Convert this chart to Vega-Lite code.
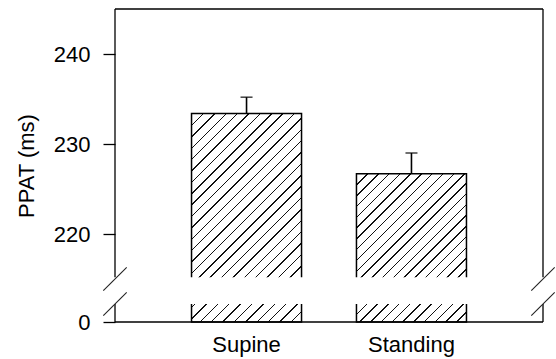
{
  "$schema": "https://vega.github.io/schema/vega-lite/v6.json",
  "width": 428,
  "height": 313,
  "autosize": {"type": "none"},
  "padding": {"left": 115, "top": 9, "right": 13, "bottom": 37},
  "background": "#ffffff",
  "config": {"view": {"stroke": null}, "font": "Liberation Sans"},
  "data": {"values": [
    {"posture": "Supine", "mean": 233.4, "upper": 235.2},
    {"posture": "Standing", "mean": 226.7, "upper": 229.0}
  ]},
  "layer": [
    {
      "layer": [
        {
          "mark": {"type": "bar", "stroke": "#000", "strokeWidth": 1.5},
          "encoding": {
            "x": {"field": "posture", "type": "nominal", "sort": ["Supine", "Standing"],
              "scale": {"domain": ["Supine", "Standing"], "paddingInner": 0.333, "paddingOuter": 0.464},
              "axis": {"orient": "bottom", "title": null, "ticks": false, "domain": false, "grid": false, "labelFontSize": 22, "labelFont": "Liberation Sans", "labelColor": "#000", "labelPadding": 12, "labelAngle": 0}},
            "y": {"field": "mean", "type": "quantitative",
              "scale": {"type": "linear", "domain": [0, 215, 245], "range": [313, 270, 0], "nice": false, "zero": false},
              "axis": {"values": [0, 220, 230, 240], "title": "PPAT (ms)", "titleFontSize": 22, "titleFontWeight": "normal", "titleFont": "Liberation Sans", "titleColor": "#000", "titlePadding": 15, "tickSize": 12, "tickColor": "#000", "tickWidth": 1.3, "labelFontSize": 22, "labelFont": "Liberation Sans", "labelColor": "#000", "labelPadding": 13, "domain": false, "grid": false, "labelOverlap": false}},
            "y2": {"datum": 0},
            "fill": {
              "condition": {"test": "datum.posture === 'Supine'", "value": {"gradient": "linear", "x1": 0, "y1": 0, "x2": 0.6302, "y2": 1.1951, "stops": [
                {"offset": 0, "color": "#111"}, {"offset": 0.0046, "color": "#111"}, {"offset": 0.0046, "color": "#fff"}, {"offset": 0.0357, "color": "#fff"},
                {"offset": 0.0357, "color": "#111"}, {"offset": 0.0403, "color": "#111"}, {"offset": 0.0403, "color": "#fff"}, {"offset": 0.0714, "color": "#fff"},
                {"offset": 0.0714, "color": "#111"}, {"offset": 0.0760, "color": "#111"}, {"offset": 0.0760, "color": "#fff"}, {"offset": 0.1071, "color": "#fff"},
                {"offset": 0.1071, "color": "#111"}, {"offset": 0.1117, "color": "#111"}, {"offset": 0.1117, "color": "#fff"}, {"offset": 0.1429, "color": "#fff"},
                {"offset": 0.1429, "color": "#111"}, {"offset": 0.1475, "color": "#111"}, {"offset": 0.1475, "color": "#fff"}, {"offset": 0.1786, "color": "#fff"},
                {"offset": 0.1786, "color": "#111"}, {"offset": 0.1832, "color": "#111"}, {"offset": 0.1832, "color": "#fff"}, {"offset": 0.2143, "color": "#fff"},
                {"offset": 0.2143, "color": "#111"}, {"offset": 0.2189, "color": "#111"}, {"offset": 0.2189, "color": "#fff"}, {"offset": 0.25, "color": "#fff"},
                {"offset": 0.25, "color": "#111"}, {"offset": 0.2546, "color": "#111"}, {"offset": 0.2546, "color": "#fff"}, {"offset": 0.2857, "color": "#fff"},
                {"offset": 0.2857, "color": "#111"}, {"offset": 0.2903, "color": "#111"}, {"offset": 0.2903, "color": "#fff"}, {"offset": 0.3214, "color": "#fff"},
                {"offset": 0.3214, "color": "#111"}, {"offset": 0.3260, "color": "#111"}, {"offset": 0.3260, "color": "#fff"}, {"offset": 0.3571, "color": "#fff"},
                {"offset": 0.3571, "color": "#111"}, {"offset": 0.3617, "color": "#111"}, {"offset": 0.3617, "color": "#fff"}, {"offset": 0.3929, "color": "#fff"},
                {"offset": 0.3929, "color": "#111"}, {"offset": 0.3975, "color": "#111"}, {"offset": 0.3975, "color": "#fff"}, {"offset": 0.4286, "color": "#fff"},
                {"offset": 0.4286, "color": "#111"}, {"offset": 0.4332, "color": "#111"}, {"offset": 0.4332, "color": "#fff"}, {"offset": 0.4643, "color": "#fff"},
                {"offset": 0.4643, "color": "#111"}, {"offset": 0.4689, "color": "#111"}, {"offset": 0.4689, "color": "#fff"}, {"offset": 0.5, "color": "#fff"},
                {"offset": 0.5, "color": "#111"}, {"offset": 0.5046, "color": "#111"}, {"offset": 0.5046, "color": "#fff"}, {"offset": 0.5357, "color": "#fff"},
                {"offset": 0.5357, "color": "#111"}, {"offset": 0.5403, "color": "#111"}, {"offset": 0.5403, "color": "#fff"}, {"offset": 0.5714, "color": "#fff"},
                {"offset": 0.5714, "color": "#111"}, {"offset": 0.5760, "color": "#111"}, {"offset": 0.5760, "color": "#fff"}, {"offset": 0.6071, "color": "#fff"},
                {"offset": 0.6071, "color": "#111"}, {"offset": 0.6117, "color": "#111"}, {"offset": 0.6117, "color": "#fff"}, {"offset": 0.6429, "color": "#fff"},
                {"offset": 0.6429, "color": "#111"}, {"offset": 0.6475, "color": "#111"}, {"offset": 0.6475, "color": "#fff"}, {"offset": 0.6786, "color": "#fff"},
                {"offset": 0.6786, "color": "#111"}, {"offset": 0.6832, "color": "#111"}, {"offset": 0.6832, "color": "#fff"}, {"offset": 0.7143, "color": "#fff"},
                {"offset": 0.7143, "color": "#111"}, {"offset": 0.7189, "color": "#111"}, {"offset": 0.7189, "color": "#fff"}, {"offset": 0.75, "color": "#fff"},
                {"offset": 0.75, "color": "#111"}, {"offset": 0.7546, "color": "#111"}, {"offset": 0.7546, "color": "#fff"}, {"offset": 0.7857, "color": "#fff"},
                {"offset": 0.7857, "color": "#111"}, {"offset": 0.7903, "color": "#111"}, {"offset": 0.7903, "color": "#fff"}, {"offset": 0.8214, "color": "#fff"},
                {"offset": 0.8214, "color": "#111"}, {"offset": 0.8260, "color": "#111"}, {"offset": 0.8260, "color": "#fff"}, {"offset": 0.8571, "color": "#fff"},
                {"offset": 0.8571, "color": "#111"}, {"offset": 0.8617, "color": "#111"}, {"offset": 0.8617, "color": "#fff"}, {"offset": 0.8929, "color": "#fff"},
                {"offset": 0.8929, "color": "#111"}, {"offset": 0.8975, "color": "#111"}, {"offset": 0.8975, "color": "#fff"}, {"offset": 0.9286, "color": "#fff"},
                {"offset": 0.9286, "color": "#111"}, {"offset": 0.9332, "color": "#111"}, {"offset": 0.9332, "color": "#fff"}, {"offset": 0.9643, "color": "#fff"},
                {"offset": 0.9643, "color": "#111"}, {"offset": 0.9689, "color": "#111"}, {"offset": 0.9689, "color": "#fff"}, {"offset": 1, "color": "#fff"}
              ]}},
              "value": {"gradient": "linear", "x1": 0, "y1": 0, "x2": 0.8334, "y2": 1.1236, "stops": [
                {"offset": 0, "color": "#111"}, {"offset": 0.0057, "color": "#111"}, {"offset": 0.0057, "color": "#fff"}, {"offset": 0.0417, "color": "#fff"},
                {"offset": 0.0417, "color": "#111"}, {"offset": 0.0474, "color": "#111"}, {"offset": 0.0474, "color": "#fff"}, {"offset": 0.0833, "color": "#fff"},
                {"offset": 0.0833, "color": "#111"}, {"offset": 0.0890, "color": "#111"}, {"offset": 0.0890, "color": "#fff"}, {"offset": 0.125, "color": "#fff"},
                {"offset": 0.125, "color": "#111"}, {"offset": 0.1307, "color": "#111"}, {"offset": 0.1307, "color": "#fff"}, {"offset": 0.1667, "color": "#fff"},
                {"offset": 0.1667, "color": "#111"}, {"offset": 0.1724, "color": "#111"}, {"offset": 0.1724, "color": "#fff"}, {"offset": 0.2083, "color": "#fff"},
                {"offset": 0.2083, "color": "#111"}, {"offset": 0.2140, "color": "#111"}, {"offset": 0.2140, "color": "#fff"}, {"offset": 0.25, "color": "#fff"},
                {"offset": 0.25, "color": "#111"}, {"offset": 0.2557, "color": "#111"}, {"offset": 0.2557, "color": "#fff"}, {"offset": 0.2917, "color": "#fff"},
                {"offset": 0.2917, "color": "#111"}, {"offset": 0.2974, "color": "#111"}, {"offset": 0.2974, "color": "#fff"}, {"offset": 0.3333, "color": "#fff"},
                {"offset": 0.3333, "color": "#111"}, {"offset": 0.3390, "color": "#111"}, {"offset": 0.3390, "color": "#fff"}, {"offset": 0.375, "color": "#fff"},
                {"offset": 0.375, "color": "#111"}, {"offset": 0.3807, "color": "#111"}, {"offset": 0.3807, "color": "#fff"}, {"offset": 0.4167, "color": "#fff"},
                {"offset": 0.4167, "color": "#111"}, {"offset": 0.4224, "color": "#111"}, {"offset": 0.4224, "color": "#fff"}, {"offset": 0.4583, "color": "#fff"},
                {"offset": 0.4583, "color": "#111"}, {"offset": 0.4640, "color": "#111"}, {"offset": 0.4640, "color": "#fff"}, {"offset": 0.5, "color": "#fff"},
                {"offset": 0.5, "color": "#111"}, {"offset": 0.5057, "color": "#111"}, {"offset": 0.5057, "color": "#fff"}, {"offset": 0.5417, "color": "#fff"},
                {"offset": 0.5417, "color": "#111"}, {"offset": 0.5474, "color": "#111"}, {"offset": 0.5474, "color": "#fff"}, {"offset": 0.5833, "color": "#fff"},
                {"offset": 0.5833, "color": "#111"}, {"offset": 0.5890, "color": "#111"}, {"offset": 0.5890, "color": "#fff"}, {"offset": 0.625, "color": "#fff"},
                {"offset": 0.625, "color": "#111"}, {"offset": 0.6307, "color": "#111"}, {"offset": 0.6307, "color": "#fff"}, {"offset": 0.6667, "color": "#fff"},
                {"offset": 0.6667, "color": "#111"}, {"offset": 0.6724, "color": "#111"}, {"offset": 0.6724, "color": "#fff"}, {"offset": 0.7083, "color": "#fff"},
                {"offset": 0.7083, "color": "#111"}, {"offset": 0.7140, "color": "#111"}, {"offset": 0.7140, "color": "#fff"}, {"offset": 0.75, "color": "#fff"},
                {"offset": 0.75, "color": "#111"}, {"offset": 0.7557, "color": "#111"}, {"offset": 0.7557, "color": "#fff"}, {"offset": 0.7917, "color": "#fff"},
                {"offset": 0.7917, "color": "#111"}, {"offset": 0.7974, "color": "#111"}, {"offset": 0.7974, "color": "#fff"}, {"offset": 0.8333, "color": "#fff"},
                {"offset": 0.8333, "color": "#111"}, {"offset": 0.8390, "color": "#111"}, {"offset": 0.8390, "color": "#fff"}, {"offset": 0.875, "color": "#fff"},
                {"offset": 0.875, "color": "#111"}, {"offset": 0.8807, "color": "#111"}, {"offset": 0.8807, "color": "#fff"}, {"offset": 0.9167, "color": "#fff"},
                {"offset": 0.9167, "color": "#111"}, {"offset": 0.9224, "color": "#111"}, {"offset": 0.9224, "color": "#fff"}, {"offset": 0.9583, "color": "#fff"},
                {"offset": 0.9583, "color": "#111"}, {"offset": 0.9640, "color": "#111"}, {"offset": 0.9640, "color": "#fff"}, {"offset": 1, "color": "#fff"}
              ]}
            }
          }
        },
        {
          "mark": {"type": "rule", "stroke": "#000", "strokeWidth": 1.6},
          "encoding": {
            "x": {"field": "posture", "type": "nominal", "scale": {"domain": ["Supine", "Standing"], "paddingInner": 0.333, "paddingOuter": 0.464}},
            "y": {"field": "mean", "type": "quantitative", "scale": {"type": "linear", "domain": [0, 215, 245], "range": [313, 270, 0], "nice": false, "zero": false}},
            "y2": {"field": "upper"}
          }
        },
        {
          "mark": {"type": "tick", "color": "#000", "thickness": 1.6, "size": 12},
          "encoding": {
            "x": {"field": "posture", "type": "nominal", "scale": {"domain": ["Supine", "Standing"], "paddingInner": 0.333, "paddingOuter": 0.464}},
            "y": {"field": "upper", "type": "quantitative", "scale": {"type": "linear", "domain": [0, 215, 245], "range": [313, 270, 0], "nice": false, "zero": false}}
          }
        }
      ]
    },
    {
      "data": {"values": [{"side": 0}, {"side": 1}]},
      "layer": [
        {
          "data": {"values": [{"piece": "gap"}]},
          "mark": {"type": "rect", "fill": "#fff", "strokeWidth": 0},
          "encoding": {
            "x": {"datum": 0, "type": "quantitative", "scale": {"domain": [0, 1], "nice": false, "zero": false}, "axis": null},
            "x2": {"datum": 1},
            "y": {"datum": 215.2, "type": "quantitative", "scale": {"type": "linear", "domain": [0, 215, 245], "range": [313, 270, 0], "nice": false, "zero": false}},
            "y2": {"datum": 90}
          }
        },
        {
          "mark": {"type": "rule", "stroke": "#000", "strokeWidth": 1.3},
          "encoding": {
            "x": {"field": "side", "type": "quantitative", "scale": {"domain": [0, 1], "nice": false, "zero": false}, "axis": null},
            "y": {"datum": 215.2, "type": "quantitative", "scale": {"type": "linear", "domain": [0, 215, 245], "range": [313, 270, 0], "nice": false, "zero": false}},
            "y2": {"datum": 245}
          }
        },
        {
          "mark": {"type": "rule", "stroke": "#000", "strokeWidth": 1.3},
          "encoding": {
            "x": {"field": "side", "type": "quantitative", "scale": {"domain": [0, 1], "nice": false, "zero": false}, "axis": null},
            "y": {"datum": 0, "type": "quantitative", "scale": {"type": "linear", "domain": [0, 215, 245], "range": [313, 270, 0], "nice": false, "zero": false}},
            "y2": {"datum": 90}
          }
        },
        {
          "data": {"values": [{"piece": "top"}]},
          "mark": {"type": "rule", "stroke": "#000", "strokeWidth": 1.3},
          "encoding": {
            "x": {"datum": 0, "type": "quantitative", "scale": {"domain": [0, 1], "nice": false, "zero": false}, "axis": null},
            "x2": {"datum": 1},
            "y": {"datum": 245, "type": "quantitative", "scale": {"type": "linear", "domain": [0, 215, 245], "range": [313, 270, 0], "nice": false, "zero": false}}
          }
        },
        {
          "data": {"values": [{"piece": "bottom"}]},
          "mark": {"type": "rule", "stroke": "#000", "strokeWidth": 1.3},
          "encoding": {
            "x": {"datum": 0, "type": "quantitative", "scale": {"domain": [0, 1], "nice": false, "zero": false}, "axis": null},
            "x2": {"datum": 1},
            "y": {"datum": 0, "type": "quantitative", "scale": {"type": "linear", "domain": [0, 215, 245], "range": [313, 270, 0], "nice": false, "zero": false}}
          }
        },
        {
          "mark": {"type": "rule", "stroke": "#222", "strokeWidth": 1.1, "xOffset": -11.7, "x2Offset": 11.7, "yOffset": 11.7, "y2Offset": -11.7},
          "encoding": {
            "x": {"field": "side", "type": "quantitative", "scale": {"domain": [0, 1], "nice": false, "zero": false}, "axis": null},
            "x2": {"field": "side"},
            "y": {"datum": 215, "type": "quantitative", "scale": {"type": "linear", "domain": [0, 215, 245], "range": [313, 270, 0], "nice": false, "zero": false}},
            "y2": {"datum": 215}
          }
        },
        {
          "mark": {"type": "rule", "stroke": "#222", "strokeWidth": 1.1, "xOffset": -11.7, "x2Offset": 11.7, "yOffset": 11.7, "y2Offset": -11.7},
          "encoding": {
            "x": {"field": "side", "type": "quantitative", "scale": {"domain": [0, 1], "nice": false, "zero": false}, "axis": null},
            "x2": {"field": "side"},
            "y": {"datum": 90, "type": "quantitative", "scale": {"type": "linear", "domain": [0, 215, 245], "range": [313, 270, 0], "nice": false, "zero": false}},
            "y2": {"datum": 90}
          }
        }
      ]
    }
  ],
  "resolve": {"scale": {"x": "independent"}}
}
